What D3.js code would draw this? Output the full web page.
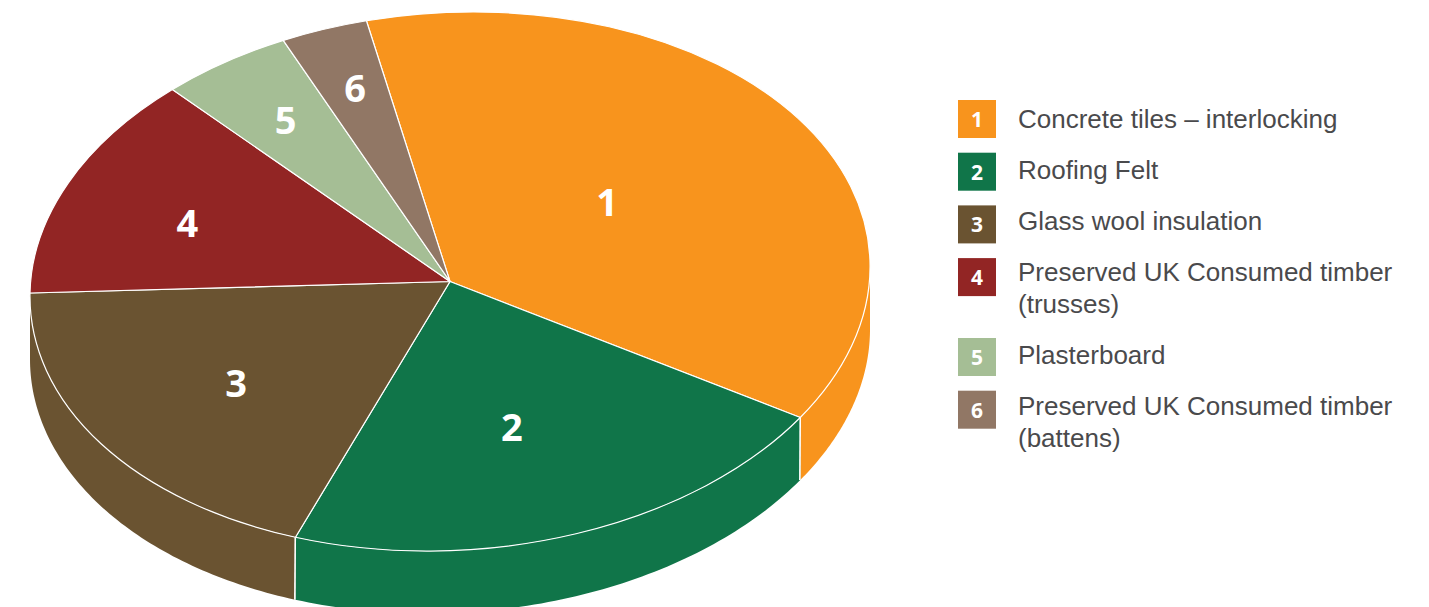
<!DOCTYPE html>
<html>
<head>
<meta charset="utf-8">
<title>Roofing materials</title>
<script src="https://cdn.jsdelivr.net/npm/d3@7/dist/d3.min.js"></script>
<style>
  html, body { margin: 0; padding: 0; background: #fff; overflow: hidden; }
  svg { display: block; }
</style>
</head>
<body>
<svg id="chart" width="1429" height="607"></svg>
<script>
// Share of each material, in percent
const codes = ["1", "2", "3", "4", "5", "6"];
const shares = [37.5, 21.7, 19.2, 13.3, 5.0, 3.3];
const colours = ["#F8941D", "#107549", "#6A5331", "#922524", "#A5BE95", "#917765"];
const legendLines = [
  ["Concrete tiles \u2013 interlocking"],
  ["Roofing Felt"],
  ["Glass wool insulation"],
  ["Preserved UK Consumed timber", "(trusses)"],
  ["Plasterboard"],
  ["Preserved UK Consumed timber", "(battens)"]
];

// Radial fraction and angular nudge (degrees) for the number on each slice
const labelRadius = [0.464, 0.568, 0.6176, 0.6736, 0.7326, 0.766];
const labelNudge = [-2.3, 2.4, -0.6, -2.9, 0.1, 0.3];

const numberFont = "'Open Sans', 'Noto Sans', sans-serif";
const textFont = "'Liberation Sans', Arial, sans-serif";

const svg = d3.select("#chart");

// The disc is a unit circle squashed into an ellipse by these scales;
// "tilt" leans it slightly, lifting the right side and dropping the left
const x = d3.scaleLinear().domain([-1, 1]).range([30, 870]);
const y = d3.scaleLinear().domain([-1, 1]).range([12.4, 550.6]);
const tilt = d3.scaleLinear().domain([-1, 1]).range([15, -15]);
const depth = 62.5;
const firstAngle = -11.5 * Math.PI / 180;

const px = a => x(Math.sin(a));
const py = a => y(-Math.cos(a)) + tilt(Math.sin(a));

const slices = d3.pie().sort(null).value(d => d)
  .startAngle(firstAngle).endAngle(firstAngle + 2 * Math.PI)(shares);

// Rim: only the front half of the disc shows its side
const rim = d3.area().x(px).y0(py).y1(a => py(a) + depth);

const rimFrom = Math.PI / 2, rimTo = 3 * Math.PI / 2;
const rimG = svg.append("g");
const rimSlices = slices.filter(s => s.startAngle < rimTo && s.endAngle > rimFrom);
rimSlices.forEach(s => {
  const a0 = Math.max(s.startAngle, rimFrom);
  const a1 = Math.min(s.endAngle, rimTo);
  const n = 80;
  const samples = d3.range(n + 1).map(k => a0 + (a1 - a0) * k / n);
  rimG.append("path").attr("d", rim(samples)).attr("fill", colours[s.index]);
});

// White seams down the rim where two slices meet
rimSlices.filter(s => s.startAngle > rimFrom).forEach(s => {
  const a = s.startAngle;
  rimG.append("line")
    .attr("x1", px(a)).attr("x2", px(a) - 0.4)
    .attr("y1", py(a)).attr("y2", py(a) + depth)
    .attr("stroke", "#fff").attr("stroke-width", 1.6);
});

// Top face of the disc
const arc = d3.arc().innerRadius(0).outerRadius(1);
const topFace = svg.append("g")
  .attr("transform", `matrix(${x(1) - x(0)},${tilt(1) - tilt(0)},0,${y(1) - y(0)},${x(0)},${y(0)})`);
topFace.selectAll("path").data(slices).join("path")
  .attr("d", arc)
  .attr("fill", (d, i) => colours[i])
  .attr("stroke", "#fff")
  .attr("stroke-width", 1.2)
  .attr("stroke-linejoin", "round")
  .attr("vector-effect", "non-scaling-stroke");

// Numbers on the slices
const labelAngle = (d, i) => (d.startAngle + d.endAngle) / 2 + labelNudge[i] * Math.PI / 180;
svg.append("g").selectAll("text").data(slices).join("text")
  .attr("x", (d, i) => x(labelRadius[i] * Math.sin(labelAngle(d, i))))
  .attr("y", (d, i) => {
    const a = labelAngle(d, i);
    return y(-labelRadius[i] * Math.cos(a)) + tilt(labelRadius[i] * Math.sin(a));
  })
  .attr("dy", "0.36em")
  .attr("text-anchor", "middle")
  .attr("font-family", numberFont)
  .attr("font-weight", 700)
  .attr("font-size", 38)
  .attr("fill", "#fff")
  .text((d, i) => codes[i]);

// Legend: swatches and names keep separate rhythms, both growing where a name wraps
const swatchStep = 52.7, swatchExtra = 27.2, swatch = 38;
const textStep = 51, lineHeight = 32;
let swatchY = 100, textY = 128;
const legend = svg.append("g");
legendLines.forEach((lines, i) => {
  legend.append("rect")
    .attr("x", 958).attr("y", swatchY)
    .attr("width", swatch).attr("height", swatch).attr("fill", colours[i]);
  legend.append("text")
    .attr("x", 958 + swatch / 2).attr("y", swatchY + swatch / 2).attr("dy", "0.38em")
    .attr("text-anchor", "middle")
    .attr("font-family", numberFont).attr("font-weight", 700).attr("font-size", 21)
    .attr("fill", "#fff").text(codes[i]);
  lines.forEach((line, k) => {
    legend.append("text")
      .attr("x", 1018).attr("y", textY + k * lineHeight)
      .attr("font-family", textFont).attr("font-size", 26)
      .attr("fill", "#4a4a4c").text(line);
  });
  swatchY += swatchStep + (lines.length - 1) * swatchExtra;
  textY += textStep + (lines.length - 1) * lineHeight;
});
</script>
</body>
</html>
